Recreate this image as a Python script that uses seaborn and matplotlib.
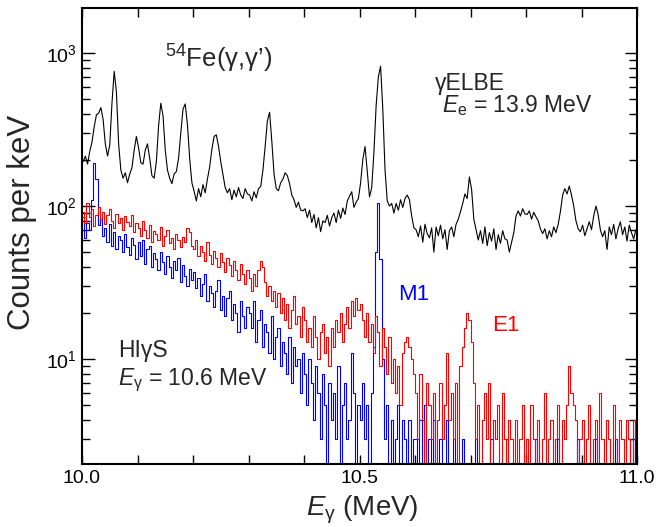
import numpy as np
import matplotlib
matplotlib.use("Agg")
import matplotlib.pyplot as plt
import matplotlib.ticker as mticker
import seaborn as sns

# channel grid: 4 keV bins from 10.0 to 11.0 MeV (bin centres)
bin_width = 0.004
energy = 10.0 + bin_width / 2 + bin_width * np.arange(250)

# gammaELBE spectrum (black), one row per 100 keV
elbe_rows = [
    [195, 212, 188, 228, 262, 330, 395, 405, 440, 370, 255, 212, 250, 470, 760, 560, 255, 172, 152, 165, 142, 162, 178, 232, 285],
    [240, 192, 188, 232, 255, 205, 158, 152, 195, 335, 470, 390, 232, 172, 152, 140, 162, 168, 205, 300, 430, 465, 340, 205, 142],
    [125, 108, 130, 115, 138, 122, 150, 180, 235, 285, 292, 245, 195, 160, 132, 122, 130, 110, 127, 115, 132, 118, 112, 130, 120],
    [118, 108, 124, 113, 130, 134, 172, 245, 360, 410, 265, 162, 130, 126, 142, 150, 165, 158, 140, 118, 110, 98, 106, 94, 93],
    [96, 84, 94, 78, 88, 72, 84, 68, 80, 78, 87, 74, 84, 90, 78, 94, 83, 97, 88, 108, 116, 124, 98, 106, 112],
    [142, 202, 245, 168, 115, 132, 225, 455, 700, 820, 430, 172, 108, 100, 104, 90, 104, 94, 110, 98, 112, 118, 110, 86, 72],
    [70, 63, 74, 58, 76, 66, 62, 72, 50, 73, 64, 75, 61, 70, 52, 69, 73, 63, 76, 82, 92, 104, 120, 112, 155],
    [128, 82, 70, 60, 69, 57, 73, 55, 67, 59, 71, 52, 65, 57, 69, 61, 60, 50, 58, 67, 86, 93, 86, 96, 89],
    [88, 93, 82, 91, 85, 80, 71, 66, 71, 61, 69, 63, 73, 67, 76, 92, 118, 130, 120, 135, 118, 100, 80, 71, 68],
    [75, 64, 71, 79, 70, 86, 100, 88, 70, 63, 69, 52, 73, 65, 76, 61, 71, 79, 65, 73, 59, 75, 67, 61, 70],
]

# HIgS spectrum, M1 part (blue)
m1_rows = [
    [85, 62, 78, 70, 110, 190, 150, 75, 82, 64, 72, 58, 76, 55, 68, 52, 64, 60, 50, 66, 54, 48, 62, 56, 45],
    [58, 47, 60, 42, 52, 55, 40, 49, 45, 38, 50, 43, 36, 47, 40, 34, 44, 38, 46, 32, 41, 35, 30, 39, 33],
    [37, 29, 34, 26, 31, 36, 24, 30, 27, 22, 28, 33, 21, 26, 19, 25, 28, 18, 23, 20, 15, 24, 19, 16, 22],
    [20, 16, 24, 13, 18, 21, 12, 17, 15, 11, 19, 10, 14, 16, 9, 13, 11, 8, 14, 7, 12, 9, 10, 6, 11],
    [8, 5, 10, 7, 4, 9, 6, 3, 8, 5, 2, 7, 4, 6, 3, 9, 2, 5, 7, 3, 4, 11, 6, 2, 5],
    [4, 7, 3, 5, 2, 6, 12, 50, 105, 45, 10, 3, 5, 2, 4, 1, 3, 5, 2, 4, 3, 1, 4, 2, 3],
    [3, 1, 4, 2, 5, 1, 3, 2, 4, 1, 2, 3, 1, 2, 4, 1, 2, 3, 1, 2, 1, 3, 1, 2, 1],
    [2, 1, 3, 1, 2, 1, 1, 2, 1, 3, 1, 2, 1, 1, 2, 1, 3, 1, 2, 1, 1, 2, 1, 1, 2],
    [1, 2, 1, 1, 3, 1, 2, 1, 1, 2, 1, 1, 2, 1, 3, 1, 1, 2, 1, 1, 2, 1, 1, 3, 1],
    [1, 2, 1, 1, 2, 1, 3, 1, 1, 2, 1, 1, 2, 1, 1, 3, 1, 2, 1, 1, 2, 1, 3, 1, 4],
]

# HIgS spectrum, E1 part (red)
e1_rows = [
    [92, 78, 104, 85, 96, 74, 88, 99, 82, 91, 76, 87, 95, 80, 72, 89, 78, 84, 70, 86, 79, 74, 88, 68, 77],
    [72, 64, 80, 70, 62, 75, 58, 69, 66, 60, 73, 55, 64, 70, 57, 62, 52, 66, 60, 54, 63, 58, 72, 68, 55],
    [52, 60, 47, 55, 50, 44, 58, 48, 42, 51, 46, 40, 49, 43, 37, 46, 41, 35, 44, 38, 33, 42, 36, 31, 38],
    [34, 28, 36, 30, 38, 44, 40, 32, 26, 30, 24, 28, 22, 27, 20, 25, 18, 23, 16, 21, 26, 17, 19, 14, 22],
    [18, 13, 16, 12, 19, 14, 10, 15, 17, 11, 14, 9, 16, 12, 18, 15, 20, 13, 17, 22, 16, 24, 19, 25, 21],
    [23, 18, 14, 20, 13, 17, 11, 19, 15, 9, 16, 12, 8, 14, 7, 10, 6, 9, 5, 11, 13, 14, 12, 10, 8],
    [6, 3, 8, 4, 2, 7, 5, 3, 6, 2, 4, 7, 3, 5, 11, 4, 6, 3, 7, 2, 9, 12, 16, 20, 18],
    [13, 7, 3, 5, 2, 4, 6, 3, 7, 2, 4, 3, 5, 2, 6, 3, 1, 4, 3, 2, 4, 1, 3, 5, 2],
    [3, 2, 5, 3, 1, 4, 2, 3, 6, 2, 3, 4, 1, 3, 5, 2, 4, 3, 5, 9, 6, 5, 4, 2, 3],
    [4, 2, 3, 5, 1, 3, 4, 2, 6, 3, 2, 4, 3, 1, 5, 3, 2, 4, 3, 2, 4, 3, 1, 4, 3],
]

elbe = np.concatenate(elbe_rows)
m1 = np.concatenate(m1_rows)
e1 = np.concatenate(e1_rows)

sns.set_theme(style="ticks")
plt.rcParams["font.family"] = ["Liberation Sans", "DejaVu Sans"]
plt.rcParams["mathtext.fontset"] = "custom"
plt.rcParams["mathtext.rm"] = "Liberation Sans"
plt.rcParams["mathtext.it"] = "Liberation Sans:italic"
plt.rcParams["mathtext.bf"] = "Liberation Sans:bold"

W, H = 659, 527
fig = plt.figure(figsize=(W / 100, H / 100), dpi=100)
ax = fig.add_axes([82 / W, 1 - 464 / H, (637 - 82) / W, (464 - 8) / H])

sns.lineplot(x=energy, y=elbe, color="black", lw=0.8, ax=ax)
sns.lineplot(x=energy, y=m1, color="blue", lw=0.8, drawstyle="steps-mid", ax=ax)
sns.lineplot(x=energy, y=e1, color="red", lw=0.8, drawstyle="steps-mid", ax=ax)

ax.set_yscale("log")
ax.set_xlim(10.0, 11.0)
ax.set_ylim(2.06, 1970)

ax.xaxis.set_major_locator(mticker.MultipleLocator(0.5))
ax.xaxis.set_minor_locator(mticker.MultipleLocator(0.1))
ax.xaxis.set_major_formatter(mticker.FormatStrFormatter("%.1f"))
ax.yaxis.set_major_locator(mticker.LogLocator(base=10))
ax.yaxis.set_minor_locator(mticker.LogLocator(base=10, subs=np.arange(2, 10)))
ax.yaxis.set_minor_formatter(mticker.NullFormatter())

ax.tick_params(axis="both", which="both", direction="in", top=True, right=True,
               width=1.0, colors="black", labelsize=14)
ax.tick_params(axis="x", which="both", length=6.5, pad=4)
ax.tick_params(axis="y", which="major", length=9, pad=4)
ax.tick_params(axis="y", which="minor", length=5.5)
for sp in ax.spines.values():
    sp.set_linewidth(1.5)
    sp.set_color("black")
ax.set_xlabel("")
ax.set_ylabel("")

def px(x, y):
    return x / W, 1 - y / H

fig.text(*px(362, 516), r"$\mathit{E}_\mathrm{γ}$ (MeV)", fontsize=20, ha="center", va="baseline")
fig.text(*px(22, 222), "Counts per keV", fontsize=22.5, rotation=90, ha="center", va="center")

fig.text(*px(165, 68), r"$^{54}$Fe(γ,γ’)", fontsize=18.5, va="baseline")
fig.text(*px(435, 90), "γELBE", fontsize=16.5, va="baseline")
fig.text(*px(442, 112), r"$\mathit{E}_\mathrm{e}$ = 13.9 MeV", fontsize=16.5, va="baseline")
fig.text(*px(118, 357), "HIγS", fontsize=16.5, va="baseline")
fig.text(*px(118, 385), r"$\mathit{E}_\mathrm{γ}$ = 10.6 MeV", fontsize=16.5, va="baseline")
fig.text(*px(398, 300), "M1", fontsize=16, color="blue", va="baseline")
fig.text(*px(492, 331), "E1", fontsize=16, color="red", va="baseline")

fig.savefig("out.png", dpi=100)
